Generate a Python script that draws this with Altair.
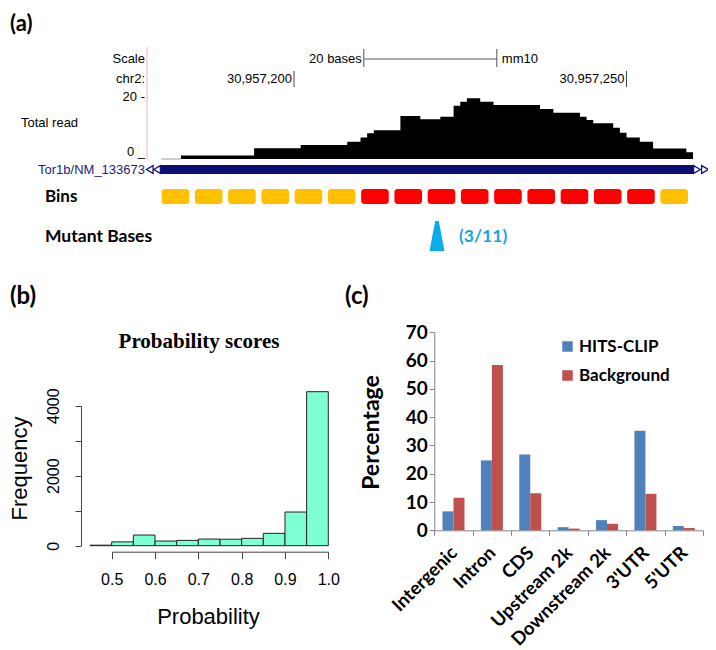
import altair as alt
import pandas as pd

# ---------------- data ----------------
# (a) read coverage over the Tor1b locus (chr2, mm10) -- step starts and read depth
cov_pos = [30957180, 30957183, 30957194, 30957201, 30957208, 30957210, 30957211,
           30957212, 30957216, 30957219, 30957222, 30957224, 30957225, 30957226,
           30957228, 30957230, 30957237, 30957239, 30957243, 30957244, 30957245,
           30957248, 30957249, 30957250, 30957252, 30957254, 30957259, 30957260]
cov_reads = [0, 1.1, 3.5, 4.5, 5.6, 6.9, 8.3,
             9.3, 13.9, 12.8, 13.6, 17.2, 18.5, 19.6,
             18.5, 17.4, 16.1, 14.9, 13.6, 12.6, 11.5,
             10.1, 8.5, 6.9, 5.6, 3.4, 2.2, 2.2]
coord_ticks = [30957200, 30957250]
scale_bar = [30957210.5, 30957230.5]
gene_span = [30957180, 30957260]
gene_name = "Tor1b/NM_133673"
bin_start = list(range(30957180, 30957260, 5))
bin_class = ["low"] * 6 + ["high"] * 9 + ["low"]
mutant_pos = [30957221]
mutant_count = 3
total_count = 11

# (b) histogram of probability scores
hist_left = [0.45, 0.50, 0.55, 0.60, 0.65, 0.70, 0.75, 0.80, 0.85, 0.90, 0.95]
hist_counts = [15, 110, 305, 133, 152, 190, 185, 210, 352, 962, 4400]

# (c) genomic distribution
regions = ["Intergenic", "Intron", "CDS", "Upstream 2k", "Downstream 2k", "3'UTR", "5'UTR"]
series = ["HITS-CLIP", "Background"]
hits_clip = [6.7, 24.7, 26.8, 1.1, 3.6, 35.2, 1.5]
background = [11.5, 58.4, 13.1, 0.6, 2.3, 12.9, 0.8]

# ---------------- helpers ----------------
W, H = 700, 642
ONE = alt.Data(values=[{}])


def txt(text, x, y, size=13, font="Liberation Sans", weight="normal",
        align="left", color="black", baseline="middle"):
    return alt.Chart(ONE).mark_text(
        text=text, align=align, baseline=baseline, font=font, fontSize=size,
        fontWeight=weight, color=color
    ).encode(x=alt.value(x), y=alt.value(y))


# ---------------- panel (a) ----------------
XA = alt.Scale(domain=[gene_span[0], gene_span[1]], range=[153, 685], nice=False, zero=False)
YA = alt.Scale(domain=[0, 20], range=[151, 89], nice=False, zero=False)

cov_df = pd.DataFrame({"pos": cov_pos, "reads": cov_reads})
area = alt.Chart(cov_df).mark_area(interpolate="step-after", color="black").encode(
    x=alt.X("pos:Q", scale=XA, axis=None),
    y=alt.Y("reads:Q", scale=YA, axis=None),
)
zero_df = pd.DataFrame({"s": [cov_pos[0]], "e": [cov_pos[1]]})
zero_rule = alt.Chart(zero_df).mark_rule(color="#999999", strokeWidth=1).encode(
    x=alt.X("s:Q", scale=XA, axis=None), x2="e:Q", y=alt.value(151)
)

gene_df = pd.DataFrame({"s": [gene_span[0]], "e": [gene_span[1]]})
gene = alt.Chart(gene_df).mark_rect(color="#0c0c74").encode(
    x=alt.X("s:Q", scale=XA, axis=None), x2="e:Q", y=alt.value(157), y2=alt.value(166)
)
chev_l = alt.Chart(gene_df).transform_calculate(
    a="datum.s - 1.7", b="datum.s - 0.6"
).transform_fold(["a", "b"], as_=["k", "p"]).mark_point(
    shape="triangle-left", filled=True, fill="white", stroke="#0c0c74", strokeWidth=1.2,
    size=60, opacity=1
).encode(x=alt.X("p:Q", scale=XA, axis=None), y=alt.value(161.5))
chev_r = alt.Chart(gene_df).transform_calculate(
    a="datum.e + 0.6", b="datum.e + 1.8"
).transform_fold(["a", "b"], as_=["k", "p"]).mark_point(
    shape="triangle-right", filled=True, fill="white", stroke="#0c0c74", strokeWidth=1.2,
    size=60, opacity=1
).encode(x=alt.X("p:Q", scale=XA, axis=None), y=alt.value(161.5))

bins_df = pd.DataFrame({"start": bin_start, "cls": bin_class})
bins = alt.Chart(bins_df).transform_calculate(
    b0="datum.start + 0.1", b1="datum.start + 4.25"
).mark_rect(cornerRadius=3).encode(
    x=alt.X("b0:Q", scale=XA, axis=None), x2="b1:Q",
    y=alt.value(181), y2=alt.value(196),
    color=alt.Color("cls:N", scale=alt.Scale(domain=["low", "high"],
                                              range=["#FFC000", "#FF0000"]), legend=None),
)

mut_df = pd.DataFrame({"pos": mutant_pos})
tri = alt.Chart(mut_df).transform_calculate(p="datum.pos + 0.5").mark_point(
    shape="M-0.12,-1L0.12,-1L0.5,1L-0.5,1Z", filled=True, size=900,
    color="#0AADEA", opacity=1
).encode(x=alt.X("p:Q", scale=XA, axis=None), y=alt.value(228))

tick_df = pd.DataFrame({"t": coord_ticks})
coord_txt = alt.Chart(tick_df).mark_text(
    align="right", dx=-2, baseline="middle", font="Liberation Sans", fontSize=13, color="black"
).encode(x=alt.X("t:Q", scale=XA, axis=None), y=alt.value(71),
         text=alt.Text("t:Q", format=","))
coord_rule = alt.Chart(tick_df).mark_rule(color="#444444").encode(
    x=alt.X("t:Q", scale=XA, axis=None), y=alt.value(63), y2=alt.value(79)
)

sb_df = pd.DataFrame({"a": [scale_bar[0]], "b": [scale_bar[1]]})
sb_rule = alt.Chart(sb_df).mark_rule(color="#555555").encode(
    x=alt.X("a:Q", scale=XA, axis=None), x2="b:Q", y=alt.value(51)
)
sb_ends = alt.Chart(sb_df).transform_fold(["a", "b"], as_=["k", "p"]).mark_rule(
    color="#555555").encode(x=alt.X("p:Q", scale=XA, axis=None), y=alt.value(41), y2=alt.value(59))
sb_txt = alt.Chart(sb_df).transform_calculate(
    lab="format(datum.b - datum.a, 'd') + ' bases'"
).mark_text(align="right", dx=-2, baseline="middle", font="Liberation Sans",
            fontSize=13, color="black").encode(
    x=alt.X("a:Q", scale=XA, axis=None), y=alt.value(51), text="lab:N")
mm10 = alt.Chart(sb_df).mark_text(
    text="mm10", align="left", dx=5, baseline="middle", font="Liberation Sans",
    fontSize=13, color="black").encode(x=alt.X("b:Q", scale=XA, axis=None), y=alt.value(51))

panel_a = alt.layer(area, zero_rule, gene, chev_l, chev_r, bins, tri, coord_rule, coord_txt,
                    sb_rule, sb_ends, sb_txt, mm10)

labels_a = [
    txt("(a)", 2, 15.5, size=22, font="Lato", weight="bold"),
    txt("Scale", 137, 51, align="right"),
    txt("chr2:", 137, 71, align="right"),
    txt("20 -", 137, 89, align="right"),
    txt("Total read", 13, 115),
    txt("0 _", 137, 144, align="right"),
    txt(gene_name, 137, 162, align="right", color="#1c1c80"),
    txt("Bins", 37, 189, size=17, font="Lato", weight="bold"),
    txt("Mutant Bases", 37, 229, size=17.5, font="Lato", weight="bold"),
    txt(f"({mutant_count}/{total_count})", 451, 229, size=17.5, font="Lato", weight="bold",
        color="#1BA3E0"),
    alt.Chart(ONE).mark_rule(color="#f2b4b4").encode(
        x=alt.value(139), y=alt.value(39), y2=alt.value(152)),
]

# ---------------- panel (b) ----------------
XB = alt.Scale(domain=[0.5, 1.0], range=[103.7, 320.3], nice=False, zero=False)
YB = alt.Scale(domain=[0, 4000], range=[537.7, 397.7], nice=False, zero=False)
hist_df = pd.DataFrame({"left": hist_left, "count": hist_counts})
hist = alt.Chart(hist_df).transform_calculate(right="datum.left + 0.05").mark_rect(
    fill="#7FFFD4", stroke="#222222", strokeWidth=1
).encode(
    x=alt.X("left:Q", scale=XB, axis=alt.Axis(
        orient="bottom", offset=543.7 - H, values=[0.5, 0.6, 0.7, 0.8, 0.9, 1.0], format=".1f",
        tickSize=7, labelPadding=13, labelBaseline="top", labelFont="Liberation Sans",
        labelFontSize=16, labelColor="black", domainColor="#444444", tickColor="#444444",
        grid=False, labelFlush=False, labelOverlap=False, labelBound=False,
        title="Probability", titleFont="Liberation Sans", titleFontSize=22,
        titleFontWeight="normal", titleColor="black", titleX=200, titleY=72,
        titleBaseline="alphabetic", titleAlign="center")),
    x2="right:Q",
    y=alt.Y("count:Q", scale=YB, axis=alt.Axis(
        orient="left", offset=-73, values=[0, 1000, 2000, 3000, 4000], format="d",
        labelExpr="datum.value % 2000 === 0 ? datum.label : ''",
        labelAngle=270, labelAlign="center", labelBaseline="alphabetic", labelPadding=17,
        tickSize=6, labelFont="Liberation Sans", labelFontSize=16, labelColor="black",
        domainColor="#444444", tickColor="#444444", grid=False, labelFlush=False,
        labelOverlap=False, labelBound=False,
        title="Frequency", titleFont="Liberation Sans", titleFontSize=22,
        titleFontWeight="normal", titleColor="black", titleAngle=270, titleX=-55,
        titleY=460, titleBaseline="alphabetic", titleAlign="center")),
    y2=alt.datum(0),
)
panel_b = alt.layer(hist)
labels_b = [
    txt("(b)", 2, 289, size=24, font="Lato", weight="bold"),
    txt("Probability scores", 191, 334, size=21, font="Liberation Serif", weight="bold",
        align="center"),
]

# ---------------- panel (c) ----------------
c_df = pd.DataFrame({
    "region": regions * 2,
    "series": [series[0]] * len(regions) + [series[1]] * len(regions),
    "value": hits_clip + background,
})
XC = alt.Scale(domain=regions, range=[426.3, 695], paddingInner=0, paddingOuter=0)
YC = alt.Scale(domain=[0, 70], range=[522.3, 324.3], nice=False, zero=False)
bars_c = alt.Chart(c_df).mark_bar().encode(
    x=alt.X("region:N", scale=XC, axis=alt.Axis(
        orient="bottom", offset=522.3 - H, title=None, labelAngle=315, labelAlign="right",
        labelBaseline="middle", labelPadding=14, tickBand="extent", tickSize=5,
        labelFont="Lato", labelFontSize=18.5, labelFontWeight="bold", labelColor="black",
        domainColor="#868686", tickColor="#868686", grid=False, labelOverlap=False,
        labelBound=False)),
    xOffset=alt.XOffset("series:N", scale=alt.Scale(domain=series, paddingInner=0,
                                                     paddingOuter=0.745)),
    y=alt.Y("value:Q", scale=YC, axis=alt.Axis(
        orient="left", offset=-426.3, values=list(range(0, 80, 10)), tickSize=5,
        labelPadding=2, labelFont="Lato", labelFontSize=19, labelFontWeight="bold",
        labelColor="black", domainColor="#868686", tickColor="#868686", grid=False,
        labelFlush=False, labelOverlap=False, labelBound=False,
        title="Percentage", titleFont="Lato", titleFontSize=23, titleFontWeight="bold",
        titleColor="black", titleAngle=270, titleX=-56, titleY=424,
        titleBaseline="alphabetic", titleAlign="center")),
    color=alt.Color("series:N", scale=alt.Scale(domain=series, range=["#4F81BD", "#C0504D"]),
                    legend=alt.Legend(orient="none", legendX=551, legendY=330, title=None,
                                      symbolType="square", symbolSize=110,
                                      symbolStrokeWidth=0, labelFont="Lato",
                                      labelFontSize=17, labelFontWeight="bold",
                                      labelColor="black", rowPadding=11, labelOffset=3,
                                      padding=0)),
)
panel_c = alt.layer(bars_c)
labels_c = [txt("(c)", 337, 289, size=24, font="Lato", weight="bold")]

chart = alt.layer(panel_a, panel_b, panel_c, *labels_a, *labels_b, *labels_c).resolve_scale(
    x="independent", y="independent", color="independent"
).resolve_axis(x="independent", y="independent").properties(
    width=W, height=H, padding=0, autosize=alt.AutoSizeParams(type="none")
).configure_view(strokeWidth=0)

chart.save("out.html", embed_options={"renderer": "svg", "actions": False})
